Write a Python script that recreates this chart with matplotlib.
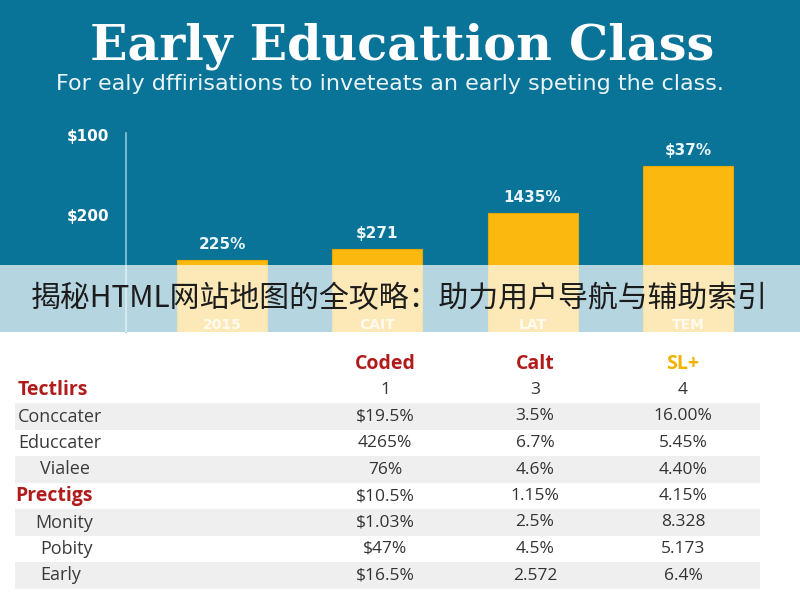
import matplotlib
matplotlib.use("Agg")
import matplotlib.pyplot as plt
from matplotlib.patches import Rectangle

# Chart data
bar_cats = ["2015", "CAIT", "LAT", "TEM"]
bar_values = [72, 83, 119, 166]
bar_labels = ["225%", "$271", "1435%", "$37%"]
ytick_values = [117, 197]
ytick_labels = ["$200", "$100"]

# Table data
col_headers = ["Coded", "Calt", "SL+"]
row_labels = ["Tectlirs", "Conccater", "Educcater", "Vialee",
              "Prectigs", "Monity", "Pobity", "Early"]
col_coded = ["1", "$19.5%", "4265%", "76%", "$10.5%", "$1.03%", "$47%", "$16.5%"]
col_calt = ["3", "3.5%", "6.7%", "4.6%", "1.15%", "2.5%", "4.5%", "2.572"]
col_sl = ["4", "16.00%", "5.45%", "4.40%", "4.15%", "8.328", "5.173", "6.4%"]
bold_rows = ["Tectlirs", "Prectigs"]

title = "Early Educattion Class"
subtitle = "For ealy dffirisations to inveteats an early speting the class."
banner = "揭秘HTML网站地图的全攻略：助力用户导航与辅助索引"

# Colours
TEAL = "#0a7398"
GOLD = "#fbb80f"
DARKRED = "#b01c1c"

fig = plt.figure(figsize=(8, 6), dpi=100)

# background / table axes in pixel coords
bg = fig.add_axes([0, 0, 1, 1], zorder=0)
bg.set_xlim(0, 800)
bg.set_ylim(600, 0)
bg.axis("off")
bg.add_patch(Rectangle((0, 0), 800, 332, color=TEAL, lw=0))

bg.text(402, 46, title, ha="center", va="center", color="white",
        fontsize=35.5, fontweight="bold", family="DejaVu Serif")
bg.text(390, 84, subtitle, ha="center", va="center", color="#eaf4f7",
        fontsize=16, family="DejaVu Sans")

# table
col_x = [385, 535, 683]
header_y = 364
row_y0 = 390
row_h = 26.5
indents = [18, 18, 18, 40, 15, 35, 40, 40]

bg.text(col_x[0], header_y, col_headers[0], ha="center", va="center",
        color=DARKRED, fontsize=14, fontweight="bold", family="Open Sans")
bg.text(col_x[1], header_y, col_headers[1], ha="center", va="center",
        color=DARKRED, fontsize=14, fontweight="bold", family="Open Sans")
bg.text(col_x[2], header_y, col_headers[2], ha="center", va="center",
        color="#f0b400", fontsize=14, fontweight="bold", family="Open Sans")

for i, label in enumerate(row_labels):
    y = row_y0 + i * row_h
    if i % 2 == 1:
        bg.add_patch(Rectangle((15, y - row_h / 2), 745, row_h,
                               color="#efefef", lw=0))
    if label in bold_rows:
        bg.text(indents[i], y, label, ha="left", va="center", color=DARKRED,
                fontsize=14, fontweight="bold", family="Open Sans")
    else:
        bg.text(indents[i], y, label, ha="left", va="center", color="#3a3a3a",
                fontsize=13, family="Open Sans")
    for cx, col in zip(col_x, [col_coded, col_calt, col_sl]):
        bg.text(cx, y, col[i], ha="center", va="center", color="#333333",
                fontsize=12.5, family="Open Sans")

# bar chart
ax = fig.add_axes([126 / 800, (600 - 332) / 600, 656 / 800, 199 / 600], zorder=1)
ax.patch.set_alpha(0)
x = list(range(len(bar_cats)))
ax.bar(x, bar_values, width=0.58, color=GOLD, edgecolor="#e8a800", linewidth=0.8)
ax.set_xlim(-0.618, 3.606)
ax.set_ylim(0, 199)
for xi, v, lab in zip(x, bar_values, bar_labels):
    ax.annotate(lab, (xi, v), xytext=(0, 6), textcoords="offset points",
                ha="center", va="bottom", color="#eaf6fa", fontsize=11,
                fontweight="bold")
# category labels, mostly hidden behind the banner
for xi, cat in zip(x, bar_cats):
    ax.text(xi, 7, cat, ha="center", va="center", color="white",
            fontsize=10, fontweight="bold", alpha=0.8)
ax.set_xticks([])
ax.set_yticks(ytick_values)
ax.set_yticklabels(ytick_labels, color="white", fontsize=11, fontweight="bold")
ax.tick_params(axis="y", length=0, pad=12)
for s in ["top", "right", "bottom"]:
    ax.spines[s].set_visible(False)
ax.spines["left"].set_color("#8cc6d8")
ax.spines["left"].set_linewidth(1.2)

# translucent banner over the chart
fig.patches.append(Rectangle((0, (600 - 332) / 600), 1, 67 / 600,
                             transform=fig.transFigure, facecolor="white",
                             alpha=0.7, lw=0, zorder=5))
fig.text(399 / 800, 1 - 299 / 600, banner, ha="center", va="center",
         color="#1c1c1c", fontsize=21.5, zorder=6,
         family=["Noto Sans CJK SC", "DejaVu Sans"])

fig.savefig("out.png", dpi=100)
